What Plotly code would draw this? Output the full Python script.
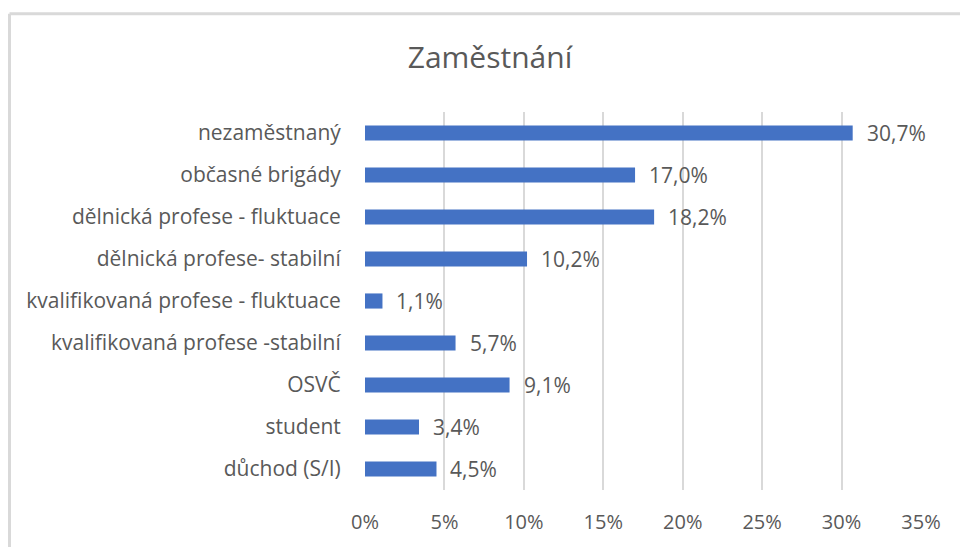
import plotly.graph_objects as go

categories = [
    "nezaměstnaný",
    "občasné brigády",
    "dělnická profese - fluktuace",
    "dělnická profese- stabilní",
    "kvalifikovaná profese - fluktuace",
    "kvalifikovaná profese -stabilní",
    "OSVČ",
    "student",
    "důchod (S/I)",
]
values = [30.7, 17.0, 18.2, 10.2, 1.1, 5.7, 9.1, 3.4, 4.5]
tick_vals = [0, 5, 10, 15, 20, 25, 30, 35]
tick_text = [f"{v}%" for v in tick_vals]
value_labels = [f"{v:.1f}".replace(".", ",") + "%" for v in values]

FONT = "Open Sans"
GRAY = "#595959"

W, H = 960, 547
L, R, T, B = 365, 39, 112, 54
pw, ph = W - L - R, H - T - B

fig = go.Figure(
    go.Bar(
        x=values,
        y=categories,
        orientation="h",
        marker=dict(color="#4472C4", line=dict(width=0)),
        width=0.36,
        hoverinfo="skip",
    )
)

for v, c, t in zip(values, categories, value_labels):
    fig.add_annotation(
        x=v, y=c, text=t, showarrow=False, xanchor="left", yanchor="middle",
        xshift=12, font=dict(family=FONT, size=21, color=GRAY),
    )

# chart border (left and top edges visible)
fig.add_shape(
    type="line", xref="paper", yref="paper",
    x0=(9.5 - L) / pw, x1=(9.5 - L) / pw,
    y0=(H - B - 13) / ph, y1=(H - B - 560) / ph,
    line=dict(color="#d9d9d9", width=3),
)
fig.add_shape(
    type="line", xref="paper", yref="paper",
    x0=(9.5 - L) / pw, x1=(980 - L) / pw,
    y0=(H - B - 13) / ph, y1=(H - B - 13) / ph,
    line=dict(color="#d9d9d9", width=3),
)

fig.update_layout(
    width=W, height=H,
    margin=dict(l=L, r=R, t=T, b=B),
    paper_bgcolor="white", plot_bgcolor="white",
    showlegend=False,
    title=dict(
        text="Zaměstnání", x=490 / W, xanchor="center",
        y=1 - 57 / H, yanchor="middle",
        font=dict(family=FONT, size=30, color=GRAY),
    ),
    font=dict(family=FONT, size=21, color=GRAY),
    xaxis=dict(
        range=[0, 35], tickvals=tick_vals, ticktext=tick_text,
        showgrid=True, gridcolor="#d9d9d9", gridwidth=1.5,
        zeroline=False, showline=False,
        ticks="outside", ticklen=14, tickcolor="rgba(0,0,0,0)",
        tickfont=dict(family=FONT, size=20, color=GRAY),
        fixedrange=True,
    ),
    yaxis=dict(
        categoryorder="array", categoryarray=categories[::-1],
        autorange=False, range=[-0.5, len(categories) - 0.5],
        showgrid=False, zeroline=False, showline=False,
        ticks="outside", ticklen=19, tickcolor="rgba(0,0,0,0)",
        tickfont=dict(family=FONT, size=21, color=GRAY),
        fixedrange=True,
    ),
)

fig.write_html(
    "out.html",
    config={"displayModeBar": False},
    post_script="document.body.style.margin='0';document.body.style.overflow='hidden';",
)
